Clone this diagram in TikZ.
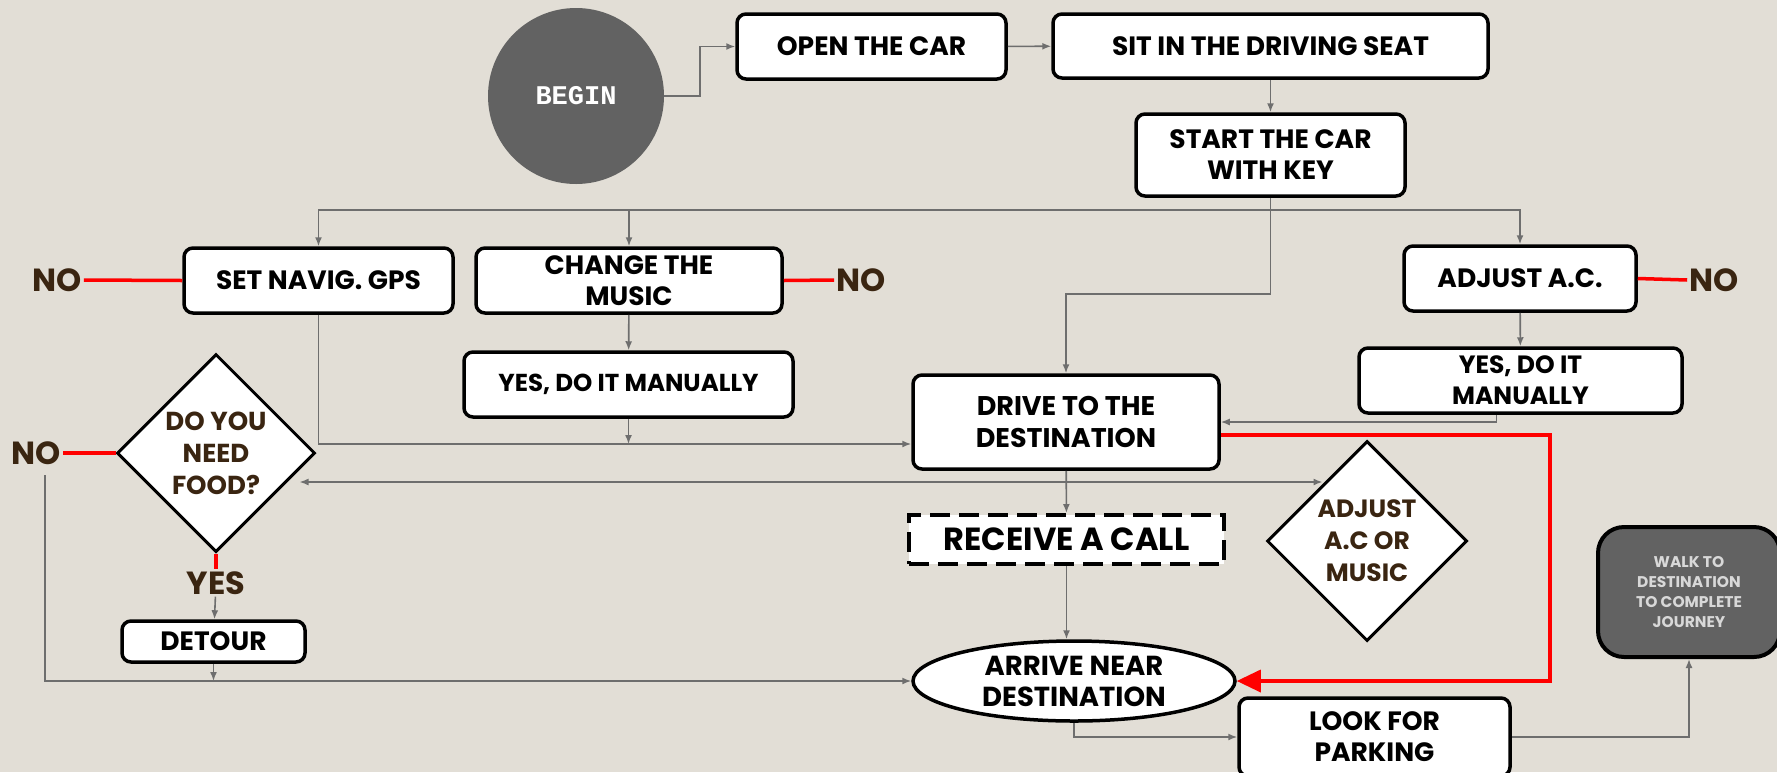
\documentclass[tikz,border=0pt]{standalone}
\usepackage{fontspec}
\setmainfont{Poppins}
\newfontfamily\monofont{Liberation Mono}
\usetikzlibrary{arrows.meta,shapes.geometric}
\definecolor{paper}{HTML}{E2DED6}
\definecolor{wire}{HTML}{6E6E6E}
\definecolor{bark}{HTML}{3A2511}
\definecolor{slate}{HTML}{626262}
\definecolor{mist}{HTML}{D8D8D8}

\begin{document}
\begin{tikzpicture}[x=1pt, y=-1pt, >=Latex,
  box/.style={draw, line width=3.5pt, rounded corners=9pt, fill=white, align=center, inner sep=0pt, font=\fontsize{26.5}{31}\selectfont\bfseries},
  choice/.style={diamond, draw, line width=3pt, fill=white, align=center, inner sep=0pt, minimum size=198pt, text=bark, font=\fontsize{26}{32}\selectfont\bfseries},
  ans/.style={text=bark, inner sep=2pt, font=\fontsize{32}{34}\selectfont\bfseries},
  link/.style={->, draw=wire, line width=1.6pt, >={Latex[length=9pt,width=7pt]}},
  nolink/.style={draw=red, line width=3.5pt},
  hot/.style={draw=red, line width=3.5pt, -{Triangle[length=24pt,width=22pt]}}]
\fill[paper] (0,0) rectangle (1777,772);
\useasboundingbox (0,0) rectangle (1777,772);

% start of the trip
\node[circle, fill=slate, minimum size=176pt, text=white, font=\monofont\fontsize{27}{30}\selectfont\bfseries] (begin) at (576,96) {BEGIN};
\node[box, minimum width=269pt, minimum height=65pt] (open) at (871.5,46.5) {OPEN THE CAR};
\node[box, minimum width=435pt, minimum height=64pt] (sit) at (1270.5,46) {SIT IN THE DRIVING SEAT};
\node[box, minimum width=269pt, minimum height=82pt] (start) at (1270.5,155) {START THE CAR\\WITH KEY};

% things to set up
\node[box, minimum width=269pt, minimum height=65pt] (gps) at (318.5,280.5) {SET NAVIG. GPS};
\node[box, minimum width=306pt, minimum height=65pt] (music) at (629,280.5) {CHANGE THE\\MUSIC};
\node[box, minimum width=232pt, minimum height=65pt] (ac) at (1520,278.5) {ADJUST A.C.};
\node[box, minimum width=329pt, minimum height=65pt, font=\fontsize{24.5}{30}\selectfont\bfseries] (manmusic) at (628.5,384.5) {YES, DO IT MANUALLY};
\node[box, minimum width=323pt, minimum height=65pt, font=\fontsize{25}{31}\selectfont\bfseries] (manac) at (1520.5,380.5) {YES, DO IT\\MANUALLY};
\node[ans] (no1) at (57,280) {NO};
\node[ans] (no2) at (861,280) {NO};
\node[ans] (no3) at (1714,280) {NO};

% on the road
\node[box, minimum width=306pt, minimum height=94pt, font=\fontsize{27}{32}\selectfont\bfseries] (drive) at (1066,422) {DRIVE TO THE\\DESTINATION};
\node[choice] (food) at (216,453) {DO YOU\\NEED\\FOOD?};
\node[ans] (no4) at (36,453) {NO};
\node[ans] (yes) at (216,583) {YES};
\node[box, minimum width=183pt, minimum height=41pt] (detour) at (213.5,641.5) {DETOUR};
\node[box, sharp corners, dash pattern=on 20pt off 9pt, line width=4pt, minimum width=315pt, minimum height=49pt, font=\fontsize{32}{34}\selectfont\bfseries] (call) at (1066.5,539.5) {RECEIVE A CALL};
\node[choice, minimum size=200pt, font=\fontsize{25}{32}\selectfont\bfseries] (acmusic) at (1367,541) {ADJUST\\A.C OR\\MUSIC};

% arrival
\node[ellipse, draw, line width=3.5pt, fill=white, minimum width=322pt, minimum height=80pt, inner sep=0pt, align=center, font=\fontsize{27.5}{31}\selectfont\bfseries] (arrive) at (1074,681) {ARRIVE NEAR\\DESTINATION};
\node[box, minimum width=271pt, minimum height=78pt] (park) at (1374.5,737) {LOOK FOR\\PARKING};
\node[box, fill=slate, line width=4pt, rounded corners=26pt, minimum width=182pt, minimum height=130pt, text=mist, font=\fontsize{15.5}{20}\selectfont\bfseries] (walk) at (1689,592) {WALK TO\\DESTINATION\\TO COMPLETE\\JOURNEY};

\coordinate (bus) at (start.south |- 0,210);
\coordinate (redturn) at (1550,435);

\draw[link] (begin.east) -- ++(36,0) |- (open.west);
\draw[link] (open) -- (sit);
\draw[link] (sit) -- (start);
\draw[link] (start.south) -- ++(0,96) -| (drive.north);
\draw[link] (bus) -| (gps.north);
\draw[link] (bus) -| (music.north);
\draw[link] (bus) -| (ac.north);
\draw[link] (music) -- (manmusic);
\draw[link] (ac) -- (manac);
\draw[link] (gps.south) |- ([yshift=-22pt]drive.west);
\draw[link] (manmusic.south) -- (manmusic.south |- 0,444);
\draw[link] ([xshift=-24pt]manac.south) |- (drive.east);
\draw[link, <->] ([shift={(-17pt,-29pt)}]food.east) -- ([shift={(57pt,59pt)}]acmusic.west);
\draw[link] (drive) -- (call);
\draw[link] (call.south) -- (call.south |- arrive.north);
\draw[link] ([shift={(9pt,-22pt)}]no4.center) |- (arrive.west);
\draw[link] (yes) -- (detour);
\draw[link] (detour.south) -- (detour.south |- arrive.west);
\draw[link] (arrive.south) |- (park.west);
\draw[link] (park.east) -| (walk.south);

% the "no" answers
\draw[nolink] (gps.west) -- (no1.east);
\draw[nolink] (music.east) -- (no2.west);
\draw[nolink] (ac.east) -- (no3.west);
\draw[nolink] (food.west) -- (no4.east);
\draw[nolink] (food.south) -- (yes.north);
\draw[hot] ([yshift=-13pt]drive.east) -- (redturn) |- (arrive.east);
\end{tikzpicture}
\end{document}
